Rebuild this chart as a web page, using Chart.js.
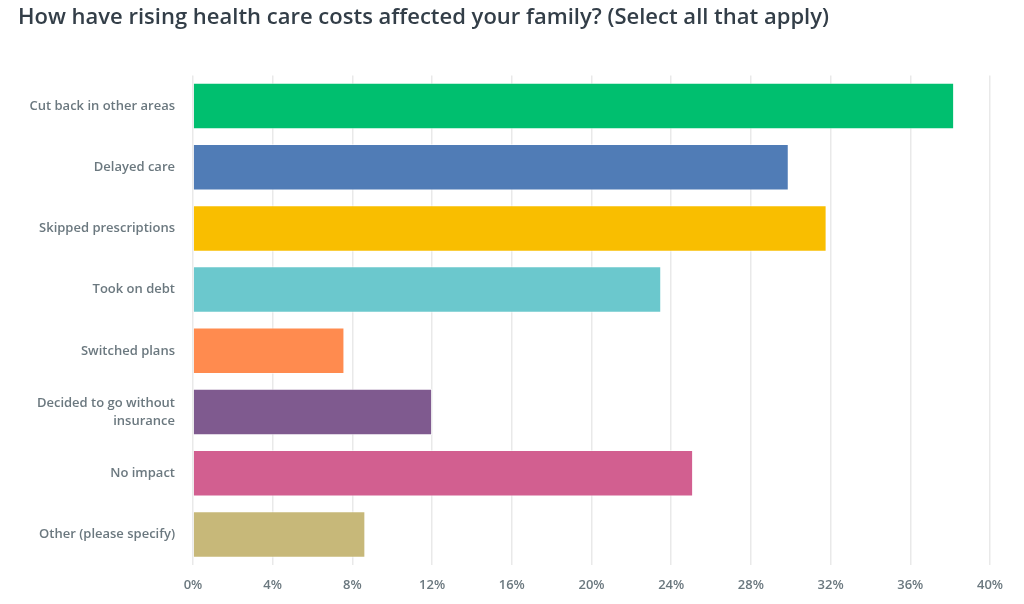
<!DOCTYPE html>
<html>
<head>
<meta charset="utf-8">
<script src="https://cdn.jsdelivr.net/npm/chart.js@4/dist/chart.umd.min.js"></script>
<style>
html,body{margin:0;padding:0;background:#fff;}
#wrap{width:1024px;height:604px;position:relative;}
</style>
</head>
<body>
<div id="wrap"><canvas id="c"></canvas></div>
<script>
const titleText = "How have rising health care costs affected your family? (Select all that apply)";
const categories = [
  "Cut back in other areas",
  "Delayed care",
  "Skipped prescriptions",
  "Took on debt",
  "Switched plans",
  ["Decided to go without", "insurance"],
  "No impact",
  "Other (please specify)"
];
const values = [38.2, 29.9, 31.8, 23.5, 7.6, 12.0, 25.1, 8.65];
const barColors = ["#00BF6F", "#507CB6", "#F9BE00", "#6BC8CD", "#FF8B4F", "#7F5A8F", "#D25F90", "#C7B879"];
const tickMax = 40;
const tickStep = 4;

new Chart(document.getElementById('c'), {
  type: 'bar',
  data: {
    labels: categories,
    datasets: [{
      data: values,
      backgroundColor: barColors,
      borderColor: 'rgba(255,255,255,0.55)',
      borderWidth: 1,
      barPercentage: 0.76,
      categoryPercentage: 1.0
    }]
  },
  options: {
    indexAxis: 'y',
    responsive: true,
    maintainAspectRatio: false,
    animation: false,
    layout: { padding: { left: 18, right: 34, top: 0, bottom: 0 } },
    plugins: {
      legend: { display: false },
      tooltip: { enabled: false },
      title: {
        display: true,
        text: titleText,
        align: 'start',
        color: '#333E48',
        font: { family: "'Open Sans', sans-serif", size: 22, weight: '600' },
        padding: { top: 5, bottom: 44 }
      }
    },
    scales: {
      x: {
        min: 0,
        max: tickMax,
        border: { display: false },
        grid: { color: '#E9E9E9', lineWidth: 1.5, drawTicks: false },
        afterFit: s => { s.height = 39; },
        ticks: {
          stepSize: tickStep,
          padding: 12,
          color: '#6B787F',
          font: { family: "'Open Sans', sans-serif", size: 13, weight: '600' },
          callback: v => v + '%'
        }
      },
      y: {
        border: { display: false },
        grid: { display: false, drawTicks: false },
        afterFit: s => { s.width = 175; },
        ticks: {
          padding: 18,
          color: '#6B787F',
          font: { family: "'Open Sans', sans-serif", size: 13, weight: '600', lineHeight: 1.4 }
        }
      }
    }
  }
});
</script>
</body>
</html>
